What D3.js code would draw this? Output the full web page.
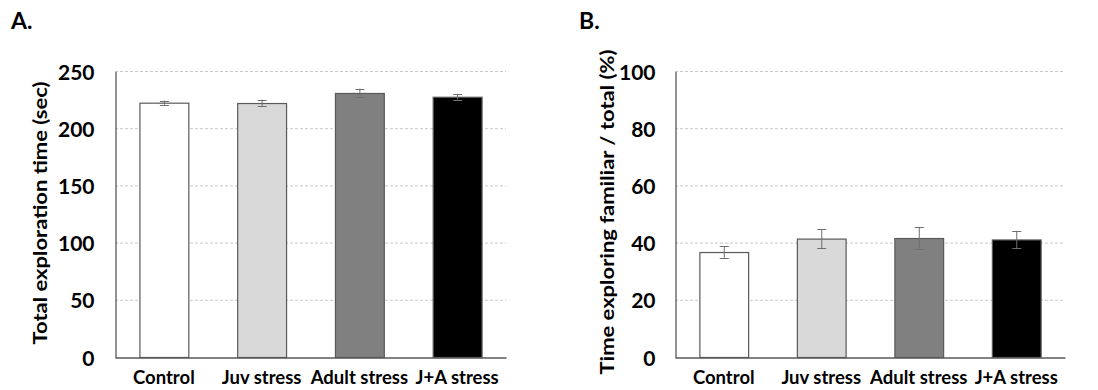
<!DOCTYPE html>
<html><head><meta charset="utf-8">
<script src="https://cdn.jsdelivr.net/npm/d3@7"></script>
<style>body{margin:0;background:#fff}svg{display:block}text{font-family:Lato,"Open Sans",sans-serif;font-weight:bold;fill:#000}</style>
</head><body>
<svg id="c" width="1098" height="390"></svg>
<script>
const categories = ["Control", "Juv stress", "Adult stress", "J+A stress"];
const fills = ["#ffffff", "#d9d9d9", "#808080", "#000000"];
const totalTime = [222.3, 222.0, 230.8, 227.5];
const totalTimeErr = [1.8, 3.0, 3.8, 2.6];
const totalTicks = [0, 50, 100, 150, 200, 250];
const familiarPct = [36.7, 41.4, 41.6, 41.1];
const familiarErr = [2.0, 3.3, 3.8, 3.0];
const familiarTicks = [0, 20, 40, 60, 80, 100];

const svg = d3.select("#c");

function panel(opt) {
  const g = svg.append("g");
  const x = d3.scaleBand().domain(categories).range([opt.x0, opt.x1]).paddingInner(0.5).paddingOuter(0.25);
  const y = d3.scaleLinear().domain([0, opt.max]).range([357, 71]);
  g.selectAll("line.grid").data(opt.ticks.filter(t => t > 0)).join("line")
    .attr("x1", opt.x0).attr("x2", opt.x1)
    .attr("y1", d => y(d) + 0.5).attr("y2", d => y(d) + 0.5)
    .attr("stroke", "#c8c8c8").attr("stroke-dasharray", "3,2").attr("stroke-width", 1);
  g.selectAll("rect").data(opt.values).join("rect")
    .attr("x", (d, i) => x(categories[i]) + 0.5)
    .attr("y", d => y(d) + 0.5)
    .attr("width", x.bandwidth())
    .attr("height", d => 357 - y(d))
    .attr("fill", (d, i) => fills[i])
    .attr("stroke", "#5a5a5a").attr("stroke-width", 1.2);
  const eg = g.selectAll("g.err").data(opt.values).join("g").attr("class", "err");
  eg.append("line")
    .attr("x1", (d, i) => x(categories[i]) + x.bandwidth() / 2 + 0.5)
    .attr("x2", (d, i) => x(categories[i]) + x.bandwidth() / 2 + 0.5)
    .attr("y1", (d, i) => y(d + opt.err[i])).attr("y2", (d, i) => y(d - opt.err[i]))
    .attr("stroke", "#6e6e6e").attr("stroke-width", 1);
  [1, -1].forEach(s => {
    eg.append("line")
      .attr("x1", (d, i) => x(categories[i]) + x.bandwidth() / 2 - 4)
      .attr("x2", (d, i) => x(categories[i]) + x.bandwidth() / 2 + 5)
      .attr("y1", (d, i) => Math.round(y(d + s * opt.err[i])) + 0.5)
      .attr("y2", (d, i) => Math.round(y(d + s * opt.err[i])) + 0.5)
      .attr("stroke", "#6e6e6e").attr("stroke-width", 1);
  });
  const ya = d3.axisLeft(y).tickValues(opt.ticks).tickSize(0).tickPadding(0);
  const yg = g.append("g").attr("transform", `translate(${opt.x0 + 0.5},0.5)`).call(ya);
  yg.select(".domain").attr("stroke", "#595959").attr("stroke-width", 1.3);
  yg.selectAll("text").attr("font-size", 21).attr("font-family", "Lato").attr("font-weight", 900)
    .attr("x", opt.tickRight - opt.x0).attr("dy", "0.36em").attr("fill", "#000");
  const xa = d3.axisBottom(x).tickSize(0).tickPadding(0);
  const xg = g.append("g").attr("transform", `translate(0,357.5)`).call(xa);
  xg.select(".domain").attr("stroke", "#595959").attr("stroke-width", 1.3);
  xg.selectAll("text").attr("font-size", 18.5).attr("font-family", "Lato").attr("font-weight", "bold")
    .attr("y", 26).attr("dy", 0).attr("fill", "#000");
  g.append("text").attr("transform", `translate(${opt.titleX},${opt.titleY}) rotate(-90)`)
    .attr("text-anchor", "middle").attr("font-size", 19)
    .attr("textLength", opt.titleLen).attr("lengthAdjust", "spacingAndGlyphs")
    .text(opt.title);
  g.append("text").attr("x", opt.labX).attr("y", 29).attr("font-size", 23).attr("font-weight", 900).text(opt.label);
}

panel({x0: 115, x1: 506, max: 250, ticks: totalTicks, values: totalTime, err: totalTimeErr,
  tickRight: 94, title: "Total exploration time (sec)", titleX: 47, titleY: 213, titleLen: 263, label: "A.", labX: 11});
panel({x0: 675, x1: 1065, max: 100, ticks: familiarTicks, values: familiarPct, err: familiarErr,
  tickRight: 655, title: "Time exploring familiar / total (%)", titleX: 614, titleY: 212, titleLen: 325, label: "B.", labX: 579});
</script>
</body></html>
